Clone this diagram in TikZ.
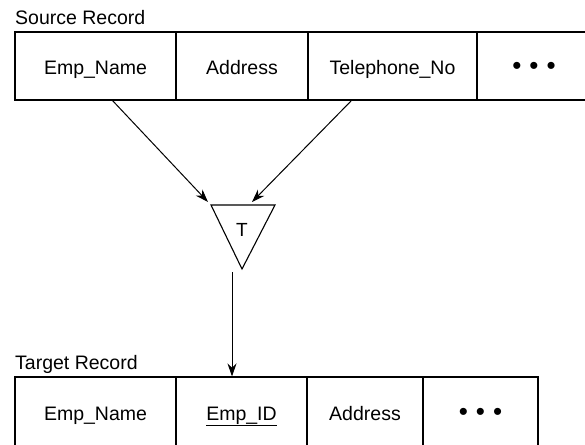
\documentclass[tikz,border=0pt]{standalone}
\usepackage{fontspec}
\setmainfont{Liberation Sans}
\usetikzlibrary{arrows.meta}
\newcommand{\threedots}{{\fontsize{26}{26}\selectfont •\hspace{8pt}•\hspace{8pt}•}}
\begin{document}
\begin{tikzpicture}[x=1pt,y=-1pt,
  cell/.style={draw, line width=1.1pt, inner sep=0pt, font=\fontsize{19.5}{22}\selectfont},
  toprow/.style={cell, minimum height=68pt, text height=17pt, text depth=0pt},
  botrow/.style={cell, minimum height=74pt, text height=12pt, text depth=0pt},
  lbl/.style={inner sep=0pt, anchor=base west, font=\fontsize{19.5}{22}\selectfont},
  arr/.style={line width=1pt, -{Stealth[length=13pt,width=9pt]}}]
\useasboundingbox (0,0) rectangle (585,444);
% source record
\node[lbl] (srclbl) at (15,25) {Source Record};
\node[toprow, minimum width=161pt] (s1) at (95.5,66) {Emp\_Name};
\node[toprow, minimum width=132pt] (s2) at (242,66) {Address};
\node[toprow, minimum width=169pt] (s3) at (392.5,66) {Telephone\_No};
\node[toprow, minimum width=114pt] (s4) at (534,66) {\threedots};
% transformation
\coordinate (ta) at (211,205);
\coordinate (tb) at (275,205);
\coordinate (tc) at (242,269);
\draw[line width=1.1pt] (ta) -- (tb) -- (tc) -- cycle;
\node[inner sep=0pt, font=\fontsize{19}{20}\selectfont] (T) at (242,230) {T};
\coordinate (a1) at (112,100);
\coordinate (a2) at (352,100);
\coordinate (h1) at (208,202);
\coordinate (h2) at (252,202);
\draw[arr] (a1) -- (h1);
\draw[arr] (a2) -- (h2);
% target record
\node[lbl] (tgtlbl) at (15,369) {Target Record};
\node[botrow, minimum width=161pt] (t1) at (95.5,414) {Emp\_Name};
\node[botrow, minimum width=131pt] (t2) at (241.5,414) {\underline{Emp\_ID}};
\node[botrow, minimum width=116pt] (t3) at (365,414) {Address};
\node[botrow, minimum width=115pt] (t4) at (480.5,414) {\threedots};
\coordinate (v1) at (232,272);
\draw[arr] (v1) -- (v1 |- t2.north);
\end{tikzpicture}
\end{document}
